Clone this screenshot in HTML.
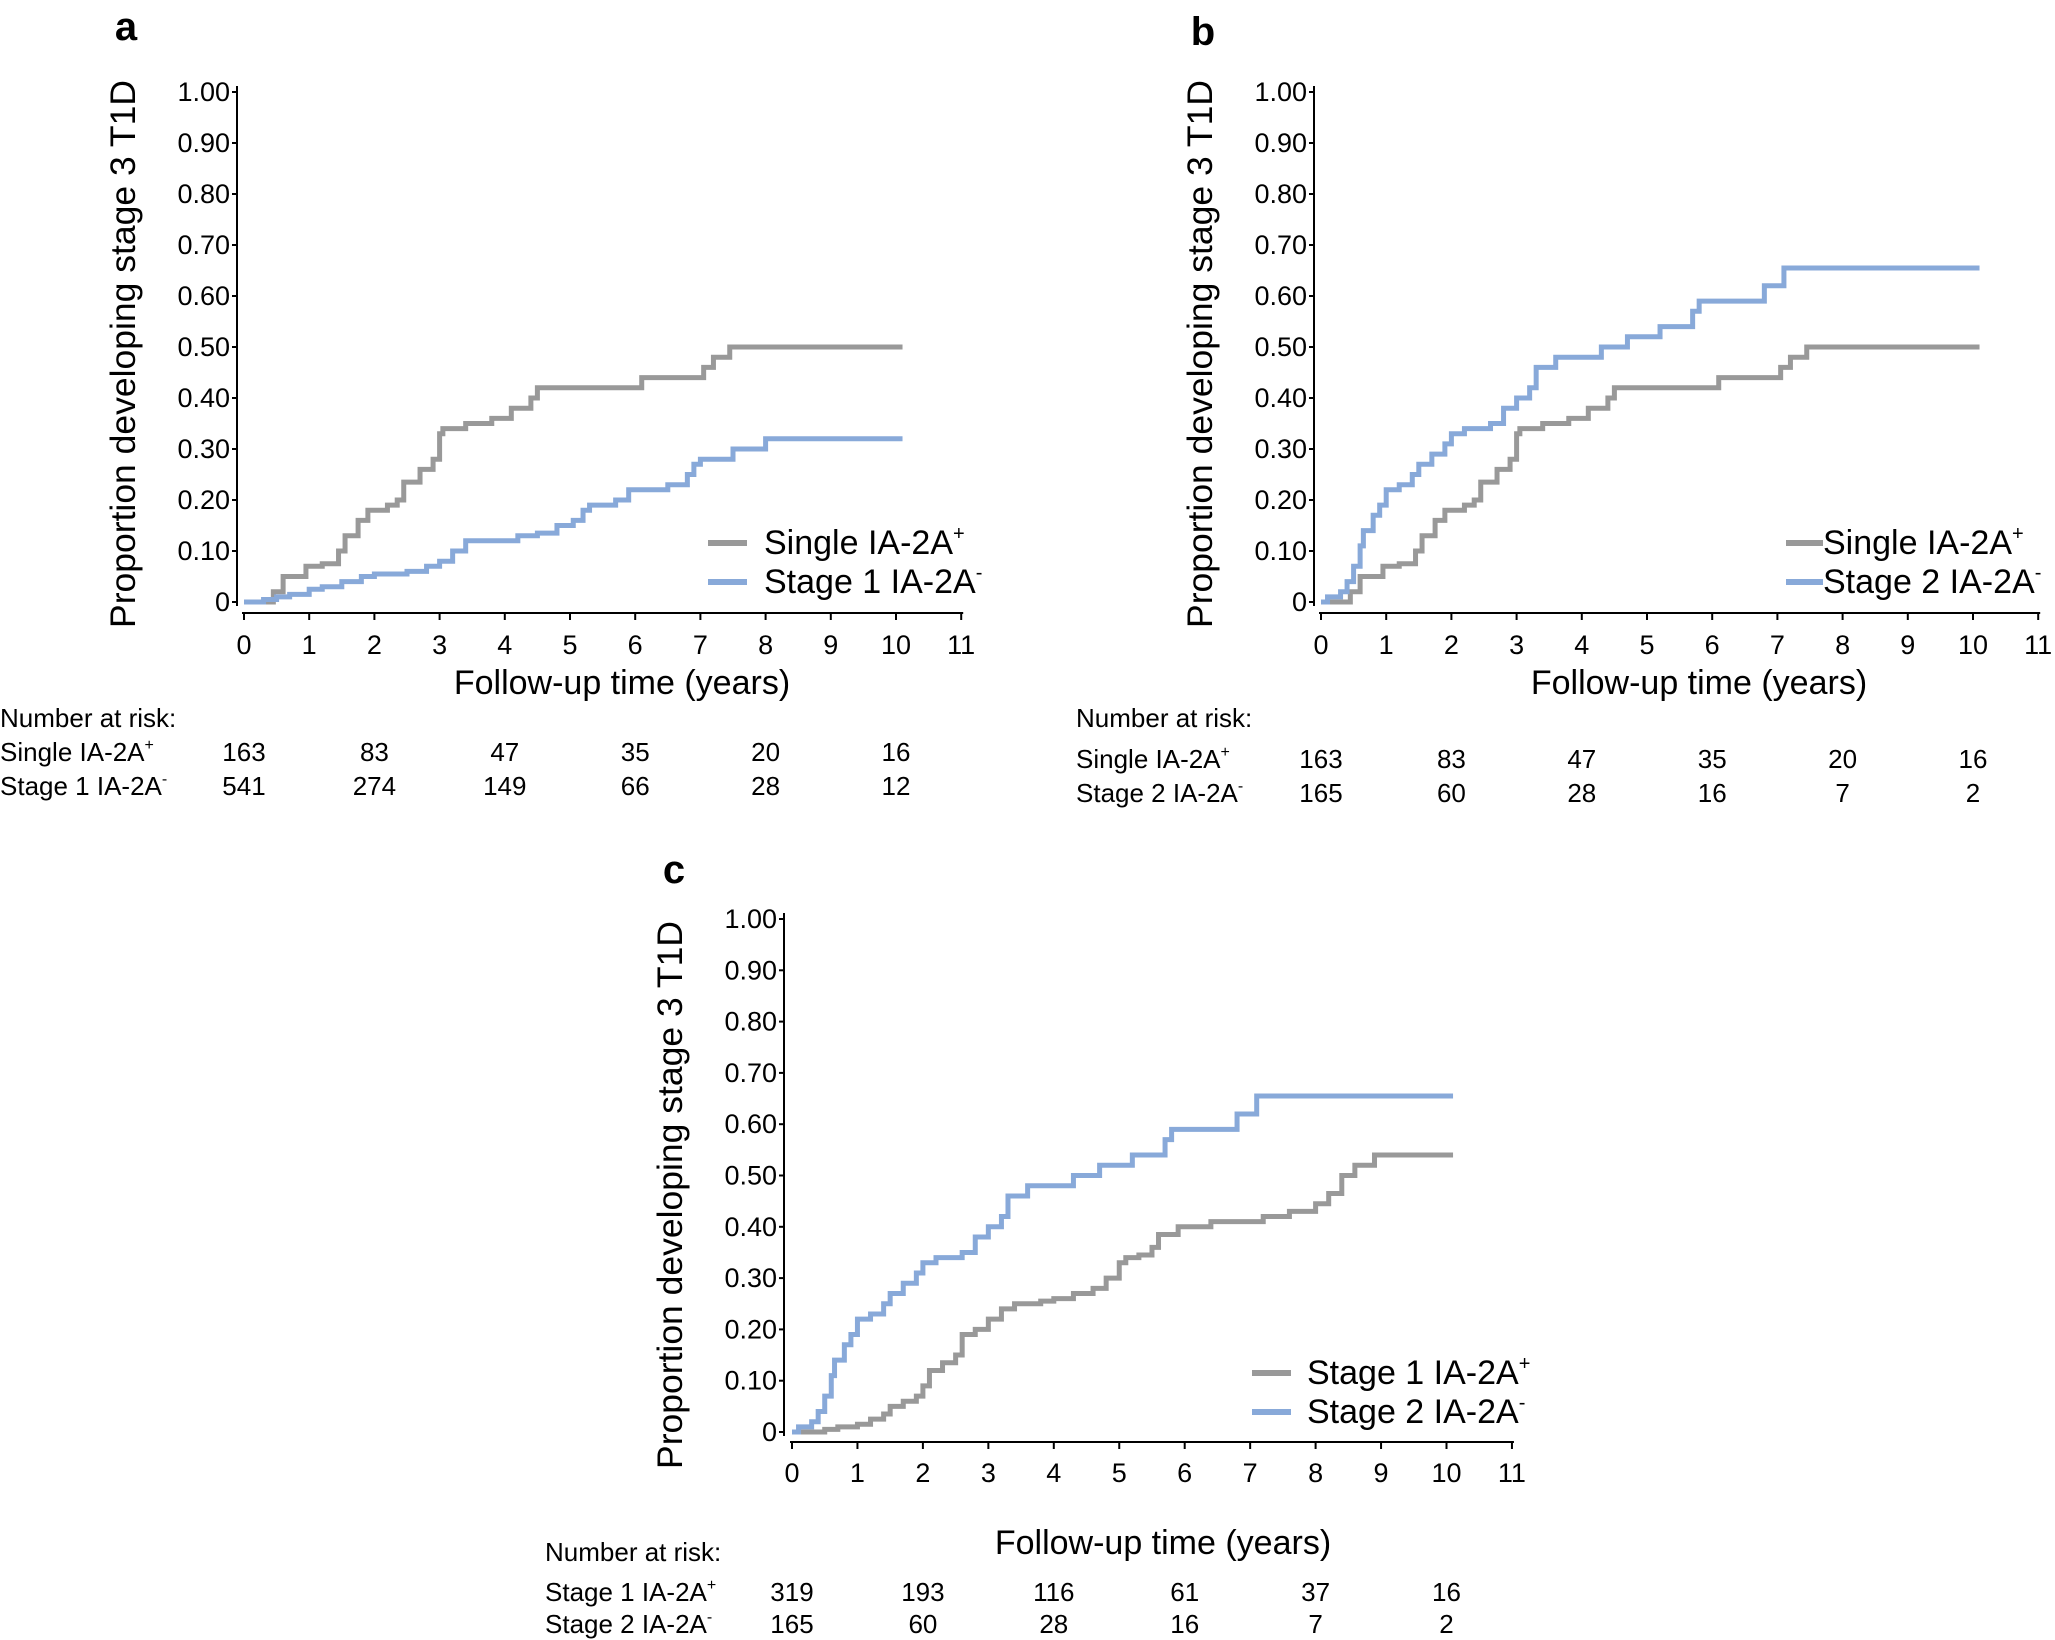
<!DOCTYPE html>
<html><head><meta charset="utf-8"><style>
body{margin:0;background:#fff}
svg{display:block;font-family:"Liberation Sans",sans-serif}
</style></head><body>
<svg id="fig" width="2055" height="1640" viewBox="0 0 2055 1640" xmlns="http://www.w3.org/2000/svg"></svg>
<script>
const xTicks=[0,1,2,3,4,5,6,7,8,9,10,11];
const yTicks=[0,0.1,0.2,0.3,0.4,0.5,0.6,0.7,0.8,0.9,1.0];
const yTickLabels=["0","0.10","0.20","0.30","0.40","0.50","0.60","0.70","0.80","0.90","1.00"];
const riskTimes=[0,2,4,6,8,10];
const singleT=[0,0.45,0.6,0.95,1.2,1.45,1.55,1.75,1.9,2.2,2.35,2.45,2.7,2.9,3.0,3.05,3.4,3.8,4.1,4.4,4.5,6.1,7.05,7.2,7.45,10.1];
const singleS=[0,0.02,0.05,0.07,0.075,0.1,0.13,0.16,0.18,0.19,0.2,0.235,0.26,0.28,0.33,0.34,0.35,0.36,0.38,0.40,0.42,0.44,0.46,0.48,0.5,0.5];
const st1negT=[0,0.3,0.5,0.7,1.0,1.2,1.5,1.8,2.0,2.5,2.8,3.0,3.2,3.4,4.2,4.5,4.8,5.05,5.2,5.3,5.7,5.9,6.5,6.8,6.9,7.0,7.5,8.0,10.1];
const st1negS=[0,0.005,0.01,0.015,0.025,0.03,0.04,0.05,0.055,0.06,0.07,0.08,0.1,0.12,0.13,0.135,0.15,0.16,0.18,0.19,0.2,0.22,0.23,0.25,0.27,0.28,0.3,0.32,0.32];
const st2negT=[0,0.1,0.3,0.4,0.5,0.6,0.65,0.8,0.9,1.0,1.2,1.4,1.5,1.7,1.9,2.0,2.2,2.6,2.8,3.0,3.2,3.3,3.6,4.3,4.7,5.2,5.7,5.8,6.8,7.1,10.1];
const st2negS=[0,0.01,0.02,0.04,0.07,0.11,0.14,0.17,0.19,0.22,0.23,0.25,0.27,0.29,0.31,0.33,0.34,0.35,0.38,0.40,0.42,0.46,0.48,0.50,0.52,0.54,0.57,0.59,0.62,0.655,0.655];
const st1posT=[0,0.5,0.7,1.0,1.2,1.4,1.5,1.7,1.9,2.0,2.1,2.3,2.5,2.6,2.8,3.0,3.2,3.4,3.8,4.0,4.3,4.6,4.8,5.0,5.1,5.3,5.5,5.6,5.9,6.4,7.2,7.6,8.0,8.2,8.4,8.6,8.9,10.1];
const st1posS=[0,0.005,0.01,0.015,0.025,0.035,0.05,0.06,0.07,0.09,0.12,0.135,0.15,0.19,0.2,0.22,0.24,0.25,0.255,0.26,0.27,0.28,0.3,0.33,0.34,0.345,0.36,0.385,0.4,0.41,0.42,0.43,0.445,0.465,0.5,0.52,0.54,0.54];
const riskA1=[163,83,47,35,20,16], riskA2=[541,274,149,66,28,12];
const riskB1=[163,83,47,35,20,16], riskB2=[165,60,28,16,7,2];
const riskC1=[319,193,116,61,37,16], riskC2=[165,60,28,16,7,2];
const GRAY="#999999", BLUE="#88a9d9";
const NS="http://www.w3.org/2000/svg";
const svg=document.getElementById('fig');
function el(tag,attrs,parent,text){const e=document.createElementNS(NS,tag);for(const k in attrs)e.setAttribute(k,attrs[k]);if(text!==undefined)e.textContent=text;(parent||svg).appendChild(e);return e;}
function panel(p){
  const g=el('g',{});
  
  
  const xs=t=>p.x0+t*p.yr, ys=v=>p.y0-v*(p.y0-p.y1);
  const lt=el('text',{x:p.lx,y:p.ly,'font-size':40,'font-weight':'bold','text-anchor':'middle'},g,p.id);
  
  const ya=el('line',{x1:p.ax,x2:p.ax,y1:p.y1-6,y2:p.y0+4,stroke:'#000','stroke-width':2},g);
  
  yTicks.forEach((v,i)=>{
    el('line',{x1:p.ax-5,x2:p.ax,y1:ys(v),y2:ys(v),stroke:'#000','stroke-width':2},g);
    const t=el('text',{x:p.ax-7,y:ys(v)+9,'font-size':27,'text-anchor':'end'},g,yTickLabels[i]);
    
  });
  const xa=el('line',{x1:xs(0)-2,x2:xs(11)+2,y1:p.xa,y2:p.xa,stroke:'#000','stroke-width':2},g);
  
  xTicks.forEach(v=>{
    el('line',{x1:xs(v),x2:xs(v),y1:p.xa,y2:p.xa+7,stroke:'#000','stroke-width':2},g);
    const t=el('text',{x:xs(v),y:p.xl,'font-size':27,'text-anchor':'middle'},g,String(v));
    
  });
  const yt=el('text',{x:0,y:0,'font-size':35.5,'text-anchor':'middle',transform:`translate(${p.ytx},${p.yty}) rotate(-90)`},g,'Proportion developing stage 3 T1D');
  
  const xt=el('text',{x:p.xtx,y:p.xty,'font-size':34,'text-anchor':'middle'},g,'Follow-up time (years)');
  
  p.series.forEach(s=>{
    let d='M'+xs(s.t[0])+' '+ys(s.s[0]);
    for(let i=1;i<s.t.length;i++){d+=' H'+xs(s.t[i])+' V'+ys(s.s[i]);}
    const pa=el('path',{d:d,fill:'none',stroke:s.c,'stroke-width':5},g);
    
  });
  p.series.forEach((s,i)=>{
    const ly=p.legY+i*39;
    const lg=el('g',{},g);
    
    el('line',{x1:p.legX1,x2:p.legX2,y1:ly,y2:ly,stroke:s.c,'stroke-width':6},lg);
    const tx=el('text',{x:p.legTx,y:ly+11,'font-size':34},lg,s.name);
    el('tspan',{'font-size':20,dy:-14},tx,s.sup);
  });
  const nr=el('text',{x:p.nrx,y:p.nry,'font-size':26},g,'Number at risk:');
  
  p.series.forEach((s,i)=>{
    const ry=p.rowY[i];
    const rl=el('text',{x:p.nrx,y:ry,'font-size':26},g,s.name);
    el('tspan',{'font-size':16,dy:-11},rl,s.sup);
    
    riskTimes.forEach((t,j)=>{
      const n=el('text',{x:xs(t),y:ry,'font-size':26,'text-anchor':'middle'},g,String(s.risk[j]));
      
    });
  });
}
panel({id:'a',x0:244,yr:65.2,y0:602,y1:92,ax:237,xa:613,xl:654,lx:126,ly:40,ytx:135,yty:354,xtx:622,xty:694,
  legY:543,legX1:708,legX2:747,legTx:764,nrx:0,nry:727,rowY:[761,795],
  series:[{key:'single-ia2a-pos',name:'Single IA-2A',sup:'+',t:singleT,s:singleS,c:GRAY,risk:riskA1},
          {key:'stage1-ia2a-neg',name:'Stage 1 IA-2A',sup:'-',t:st1negT,s:st1negS,c:BLUE,risk:riskA2}]});
panel({id:'b',x0:1321,yr:65.2,y0:602,y1:92,ax:1314,xa:613,xl:654,lx:1203,ly:45,ytx:1212,yty:354,xtx:1699,xty:694,
  legY:543,legX1:1786,legX2:1823,legTx:1823,nrx:1076,nry:727,rowY:[768,802],
  series:[{key:'single-ia2a-pos',name:'Single IA-2A',sup:'+',t:singleT,s:singleS,c:GRAY,risk:riskB1},
          {key:'stage2-ia2a-neg',name:'Stage 2 IA-2A',sup:'-',t:st2negT,s:st2negS,c:BLUE,risk:riskB2}]});
panel({id:'c',x0:792,yr:65.45,y0:1432,y1:919,ax:784,xa:1442,xl:1482,lx:674,ly:883,ytx:682,yty:1195,xtx:1163,xty:1554,
  legY:1373,legX1:1252,legX2:1291,legTx:1307,nrx:545,nry:1561,rowY:[1601,1633],
  series:[{key:'stage1-ia2a-pos',name:'Stage 1 IA-2A',sup:'+',t:st1posT,s:st1posS,c:GRAY,risk:riskC1},
          {key:'stage2-ia2a-neg',name:'Stage 2 IA-2A',sup:'-',t:st2negT,s:st2negS,c:BLUE,risk:riskC2}]});
</script>
</body></html>
